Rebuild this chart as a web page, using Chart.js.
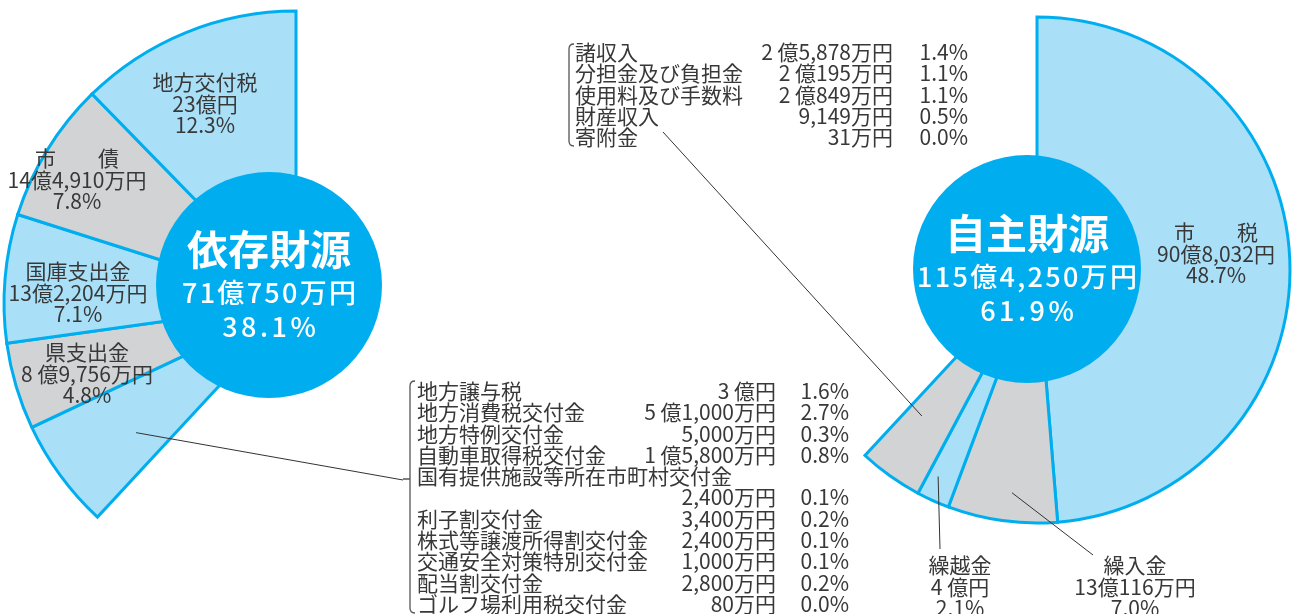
<!DOCTYPE html>
<html lang="ja">
<head>
<meta charset="utf-8">
<title>歳入の内訳</title>
<script src="https://cdn.jsdelivr.net/npm/chart.js@4.4.0/dist/chart.umd.min.js"></script>
<style>
  html, body { margin: 0; padding: 0; background: #fff; }
  #wrap { position: relative; width: 1296px; height: 614px; overflow: hidden; }
  #wrap canvas { position: absolute; left: 0; top: 0; }
</style>
</head>
<body>
<div id="wrap">
  <canvas id="depChart" width="1296" height="614"></canvas>
  <canvas id="ownChart" width="1296" height="614"></canvas>
</div>
<script>
// 依存財源 (counterclockwise from 12 o'clock)
const depLabels = ['地方交付税', '市　　債', '国庫支出金', '県支出金', 'その他'];
const depAmounts = ['23億円', '14億4,910万円', '13億2,204万円', '8 億9,756万円', ''];
const depValues = [12.3, 7.8, 7.1, 4.8, 6.1];
const depTotal = ['依存財源', '71億750万円', '38.1%'];

// 自主財源 (clockwise from 12 o'clock)
const ownLabels = ['市　　税', '繰入金', '繰越金', 'その他'];
const ownAmounts = ['90億8,032円', '13億116万円', '4 億円', ''];
const ownValues = [48.7, 7.0, 2.1, 4.1];
const ownTotal = ['自主財源', '115億4,250万円', '61.9%'];

// breakdown lists
const depOtherNames = ['地方譲与税', '地方消費税交付金', '地方特例交付金', '自動車取得税交付金',
  '国有提供施設等所在市町村交付金', '', '利子割交付金', '株式等譲渡所得割交付金',
  '交通安全対策特別交付金', '配当割交付金', 'ゴルフ場利用税交付金'];
const depOtherAmounts = ['3 億円', '5 億1,000万円', '5,000万円', '1 億5,800万円', '',
  '2,400万円', '3,400万円', '2,400万円', '1,000万円', '2,800万円', '80万円'];
const depOtherPcts = ['1.6%', '2.7%', '0.3%', '0.8%', '', '0.1%', '0.2%', '0.1%', '0.1%', '0.2%', '0.0%'];

const ownOtherNames = ['諸収入', '分担金及び負担金', '使用料及び手数料', '財産収入', '寄附金'];
const ownOtherAmounts = ['2 億5,878万円', '2 億195万円', '2 億849万円', '9,149万円', '31万円'];
const ownOtherPcts = ['1.4%', '1.1%', '1.1%', '0.5%', '0.0%'];

const BLUE = '#a9e0f8';
const GRAY = '#d1d3d5';
const CYAN = '#00aeef';
const INK = '#383838';
const FONT = '"Noto Sans CJK JP", "Noto Sans", sans-serif';

function sum(a) { return a.reduce((s, v) => s + v, 0); }

// point inside an arc: t = fraction along the angle, rf = fraction of the radius
function arcPoint(arc, t, rf) {
    const a = arc.startAngle + t * (arc.endAngle - arc.startAngle);
    const r = rf * arc.outerRadius;
    return { x: arc.x + Math.cos(a) * r, y: arc.y + Math.sin(a) * r };
}

function spacedText(ctx, text, x, y, gap) {
    const chars = Array.from(text);
    const widths = chars.map(c => ctx.measureText(c).width);
    let pos = x - (sum(widths) + gap * (chars.length - 1)) / 2;
    ctx.textAlign = 'left';
    chars.forEach((c, i) => {
        ctx.fillText(c, pos, y);
        pos += widths[i] + gap;
    });
}

function textBlock(ctx, lines, x, y, lh) {
    ctx.save();
    ctx.fillStyle = INK;
    ctx.font = '21px ' + FONT;
    ctx.textAlign = 'center';
    ctx.textBaseline = 'middle';
    lines.forEach((t, i) => ctx.fillText(t, x, y + (i - (lines.length - 1) / 2) * lh));
    ctx.restore();
}

function badge(ctx, x, y, r, lines) {
    ctx.save();
    ctx.beginPath();
    ctx.arc(x, y, r, 0, Math.PI * 2);
    ctx.fillStyle = CYAN;
    ctx.fill();
    ctx.fillStyle = '#fff';
    ctx.textBaseline = 'middle';
    ctx.textAlign = 'center';
    ctx.font = 'bold 41px ' + FONT;
    ctx.fillText(lines[0], x, y - 36);
    ctx.font = '500 27px ' + FONT;
    spacedText(ctx, lines[1], x, y + 8, 2.3);
    spacedText(ctx, lines[2], x, y + 42, 3.5);
    ctx.restore();
}

function line(ctx, x1, y1, x2, y2) {
    ctx.save();
    ctx.strokeStyle = '#333';
    ctx.lineWidth = 1;
    ctx.beginPath();
    ctx.moveTo(x1, y1);
    ctx.lineTo(x2, y2);
    ctx.stroke();
    ctx.restore();
}

function bracket(ctx, x, y1, y2, tickY) {
    ctx.save();
    ctx.strokeStyle = '#555';
    ctx.lineWidth = 1.3;
    ctx.beginPath();
    ctx.moveTo(x + 5, y1);
    ctx.quadraticCurveTo(x, y1, x, y1 + 5);
    ctx.lineTo(x, y2 - 5);
    ctx.quadraticCurveTo(x, y2, x + 5, y2);
    if (tickY !== undefined) {
        ctx.moveTo(x, tickY);
        ctx.lineTo(x - 7, tickY);
    }
    ctx.stroke();
    ctx.restore();
}

function list(ctx, names, amounts, pcts, nameX, amountX, pctX, y0, lh) {
    ctx.save();
    ctx.fillStyle = INK;
    ctx.font = '21px ' + FONT;
    ctx.textBaseline = 'middle';
    names.forEach((n, i) => {
        const y = y0 + i * lh;
        ctx.textAlign = 'left';
        ctx.fillText(n, nameX, y);
        ctx.textAlign = 'right';
        ctx.fillText(amounts[i], amountX, y);
        ctx.fillText(pcts[i], pctX, y);
    });
    ctx.restore();
}

const depDecor = {
    id: 'depDecor',
    afterDatasetsDraw(chart) {
        const ctx = chart.ctx;
        const arcs = chart.getDatasetMeta(0).data;
        const cx = arcs[0].x, cy = arcs[0].y;
        // arcs are drawn clockwise: [rest, その他, 県支出金, 国庫支出金, 市債, 地方交付税]
        const pos = [[-91, -199], [-219, -123], [-218, -10], [-209, 71]];
        pos.forEach((p, i) => {
            textBlock(ctx, [depLabels[i], depAmounts[i], depValues[i].toFixed(1) + '%'],
                cx + p[0], cy + p[1], 21.5);
        });
        badge(ctx, cx - 27, cy - 18, 113, depTotal);

        const s = arcPoint(arcs[1], 0.37, 0.705);
        line(ctx, s.x, s.y, 403, 480);
        bracket(ctx, 410, 381, 613, 479);
        list(ctx, depOtherNames, depOtherAmounts, depOtherPcts, 417, 776, 849, 391, 21.3);
    }
};

const ownDecor = {
    id: 'ownDecor',
    afterDatasetsDraw(chart) {
        const ctx = chart.ctx;
        const arcs = chart.getDatasetMeta(0).data;
        const cx = arcs[0].x, cy = arcs[0].y;
        const pct = i => ownValues[i].toFixed(1) + '%';
        textBlock(ctx, [ownLabels[0], ownAmounts[0], pct(0)], cx + 179, cy - 16, 21.5);
        badge(ctx, cx - 10, cy - 1, 114, ownTotal);

        // 繰入金
        let s = arcPoint(arcs[1], 0.44, 0.886);
        line(ctx, s.x, s.y, 1093, 555);
        textBlock(ctx, [ownLabels[1], ownAmounts[1], pct(1)], cx + 98, cy + 317, 21.5);
        // 繰越金
        s = arcPoint(arcs[2], 0.67, 0.905);
        line(ctx, s.x, s.y, 940, 549);
        textBlock(ctx, [ownLabels[2], ownAmounts[2], pct(2)], cx - 77, cy + 317, 21.5);
        // その他 -> list
        s = arcPoint(arcs[3], 0.69, 0.735);
        line(ctx, s.x, s.y, 663, 132);
        bracket(ctx, 569, 44, 146);
        list(ctx, ownOtherNames, ownOtherAmounts, ownOtherPcts, 575, 893, 968, 52, 21.3);
    }
};

function pieOptions(padding, radius) {
    return {
        responsive: false,
        animation: false,
        events: [],
        radius: radius,
        rotation: 0,
        layout: { padding: padding },
        plugins: { legend: { display: false }, tooltip: { enabled: false } }
    };
}

const depColors = [BLUE, GRAY, BLUE, GRAY, BLUE];
new Chart(document.getElementById('depChart'), {
    type: 'pie',
    data: {
        labels: ['自主財源'].concat(depLabels.slice().reverse()),
        datasets: [{
            data: [100 - sum(depValues)].concat(depValues.slice().reverse()),
            backgroundColor: ['rgba(0,0,0,0)'].concat(depColors.slice().reverse()),
            borderColor: CYAN,
            borderWidth: [0, 3, 3, 3, 3, 3],
            borderJoinStyle: 'miter'
        }]
    },
    options: pieOptions({ left: 4, right: 708, top: 11, bottom: 19 }, 292),
    plugins: [depDecor]
});

const ownColors = [BLUE, GRAY, BLUE, GRAY];
new Chart(document.getElementById('ownChart'), {
    type: 'pie',
    data: {
        labels: ownLabels.concat(['依存財源']),
        datasets: [{
            data: ownValues.concat([100 - sum(ownValues)]),
            backgroundColor: ownColors.concat(['rgba(0,0,0,0)']),
            borderColor: CYAN,
            borderWidth: [3, 3, 3, 3, 0],
            borderJoinStyle: 'miter'
        }]
    },
    options: pieOptions({ left: 784, right: 6, top: 17, bottom: 91 }, 253),
    plugins: [ownDecor]
});
</script>
</body>
</html>
